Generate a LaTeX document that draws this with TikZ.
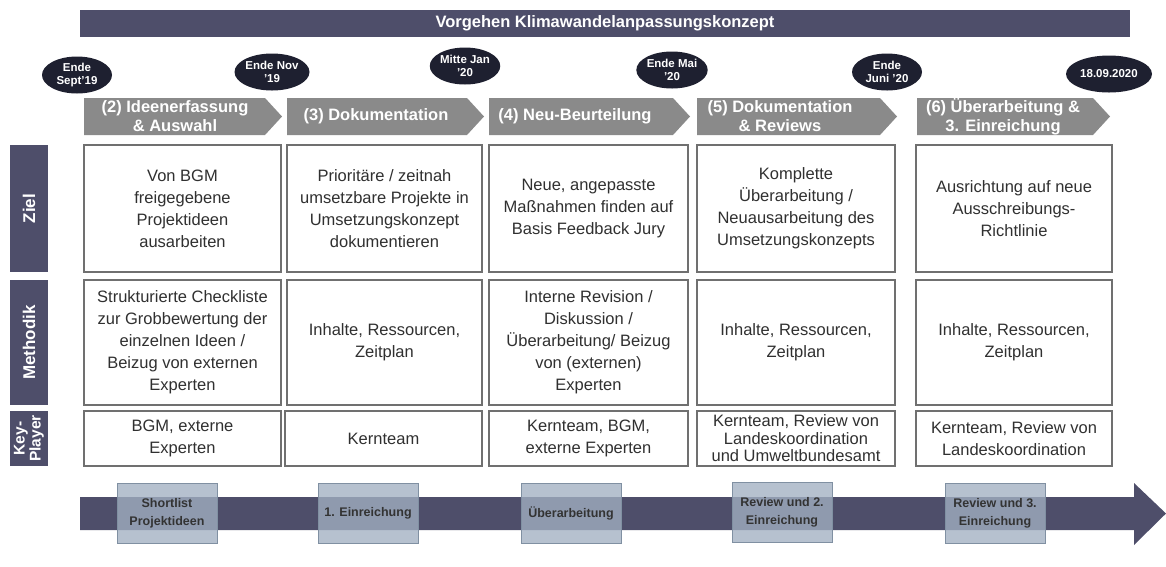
\documentclass[tikz,border=0pt]{standalone}
\usepackage{fontspec}
\setmainfont{Liberation Sans}
\usetikzlibrary{shapes.geometric}
\definecolor{slate}{HTML}{4E4E6A}
\definecolor{ell}{HTML}{1E2030}
\definecolor{chev}{HTML}{8A8A8A}
\definecolor{cellline}{HTML}{707070}
\definecolor{celltext}{HTML}{303030}
\definecolor{mile}{HTML}{A2B0C2}
\definecolor{mileline}{HTML}{8090A2}
\newcommand\mycell[6]{\node[cell, minimum width={#3-#2}, minimum height={#5-#4}] (#1) at ({(#2+#3)/2},{(#4+#5)/2}) {#6};}
\newcommand\mychev[5]{%
  \fill[chev] (#2,98) -- (#3-17,98) -- (#3,116.5) -- (#3-17,135) -- (#2,135) -- cycle;
  \node[chevtext] (#1) at (#4,116.5) {#5};}
\begin{document}
\begin{tikzpicture}[x=1pt,y=-1pt,
  cell/.style={draw=cellline, line width=1.1pt, fill=white, align=center, text=celltext, inner sep=0pt,
    font=\fontsize{16.5}{22}\selectfont},
  tightcell/.style={cell, font=\fontsize{16.5}{17.5}\selectfont},
  sidelabel/.style={fill=slate, text=white, align=center, inner sep=0pt},
  sidetext/.style={rotate=90, text=white, align=center, font=\bfseries\fontsize{17}{18}\selectfont},
  chevtext/.style={text=white, font=\bfseries\fontsize{16.5}{19}\selectfont, align=center, inner sep=0pt},
  datebox/.style={ellipse, fill=ell, text=white, font=\bfseries\fontsize{11.5}{13}\selectfont, align=center, inner sep=0pt},
  milebox/.style={draw=mileline, line width=0.8pt, fill=mile, fill opacity=0.78, text opacity=1, text=black!80, align=center,
    font=\bfseries\fontsize{12.5}{18}\selectfont, inner sep=0pt, minimum width=100, minimum height=60}
]
\useasboundingbox (0,0) rectangle (1166,566);
% title
\node[fill=slate, minimum width=1050, minimum height=27, inner sep=0pt, text=white,
  font=\bfseries\fontsize{16.5}{18}\selectfont] (title) at (605,23.5) {Vorgehen Klimawandelanpassungskonzept};
% dates
\node[datebox, minimum width=70, minimum height=37] (d1) at (77,75) {Ende\\Sept’19};
\node[datebox, minimum width=70, minimum height=37] (d2) at (272,72) {Ende Nov\\’19};
\node[datebox, minimum width=70, minimum height=37] (d3) at (465,66) {Mitte Jan\\’20};
\node[datebox, minimum width=70, minimum height=37] (d4) at (672,70) {Ende Mai\\’20};
\node[datebox, minimum width=70, minimum height=37] (d5) at (887,72) {Ende\\Juni ’20};
\node[datebox, minimum width=86, minimum height=37] (d6) at (1109,74) {18.09.2020};
% chevrons
\mychev{p1}{84}{282}{175}{(2) Ideenerfassung\\\& Auswahl}
\mychev{p2}{287}{484}{376}{(3) Dokumentation}
\mychev{p3}{489}{690}{575}{(4) Neu-Beurteilung}
\mychev{p4}{697}{897}{780}{(5) Dokumentation\\\& Reviews}
\mychev{p5}{917}{1110}{1003}{(6) Überarbeitung \&\\3. Einreichung}
% side labels
\node[sidelabel, minimum width=38, minimum height=127] (lz) at (29,208.5) {};
\node[sidetext] (lzt) at (lz) {Ziel};
\node[sidelabel, minimum width=38, minimum height=125] (lm) at (29,342.5) {};
\node[sidetext] (lmt) at (lm) {Methodik};
\node[sidelabel, minimum width=38, minimum height=55] (lk) at (29,438.5) {};
\node[sidetext, font=\bfseries\fontsize{15.5}{16}\selectfont] (lkt) at (lk) {Key-\\Player};
% Ziel row
\mycell{z1}{84}{281}{145}{272}{Von BGM\\freigegebene\\Projektideen\\ausarbeiten}
\mycell{z2}{287}{482}{145}{272}{Prioritäre / zeitnah\\umsetzbare Projekte in\\Umsetzungskonzept\\dokumentieren}
\mycell{z3}{489}{688}{145}{272}{Neue, angepasste\\Maßnahmen finden auf\\Basis Feedback Jury}
\mycell{z4}{697}{895}{145}{272}{Komplette\\Überarbeitung /\\Neuausarbeitung des\\Umsetzungskonzepts}
\mycell{z5}{916}{1112}{145}{272}{Ausrichtung auf neue\\Ausschreibungs-\\Richtlinie}
% Methodik row
\mycell{m1}{84}{281}{280}{405}{Strukturierte Checkliste\\zur Grobbewertung der\\einzelnen Ideen /\\Beizug von externen\\Experten}
\mycell{m2}{287}{482}{280}{405}{Inhalte, Ressourcen,\\Zeitplan}
\mycell{m3}{489}{688}{280}{405}{Interne Revision /\\Diskussion /\\Überarbeitung/ Beizug\\von (externen)\\Experten}
\mycell{m4}{697}{895}{280}{405}{Inhalte, Ressourcen,\\Zeitplan}
\mycell{m5}{916}{1112}{280}{405}{Inhalte, Ressourcen,\\Zeitplan}
% Key-Player row
\mycell{k1}{84}{281}{411}{466}{BGM, externe\\Experten}
\mycell{k2}{285}{482}{411}{466}{Kernteam}
\mycell{k3}{489}{688}{411}{466}{Kernteam, BGM,\\externe Experten}
\node[tightcell, minimum width=198, minimum height=55] (k4) at (796,438.5) {Kernteam, Review von\\Landeskoordination\\und Umweltbundesamt};
\mycell{k5}{916}{1112}{411}{466}{Kernteam, Review von\\Landeskoordination}
% bottom arrow
\fill[slate] (80,497) -- (1134,497) -- (1134,483) -- (1166,513.5) -- (1134,545) -- (1134,530) -- (80,530) -- cycle;
\node[milebox] (s1) at (167,513) {Shortlist\\Projektideen};
\node[milebox] (s2) at (368,513) {1. Einreichung};
\node[milebox] (s3) at (571,513) {Überarbeitung};
\node[milebox] (s4) at (782,512) {Review und 2.\\Einreichung};
\node[milebox] (s5) at (995,513) {Review und 3.\\Einreichung};
\end{tikzpicture}
\end{document}
